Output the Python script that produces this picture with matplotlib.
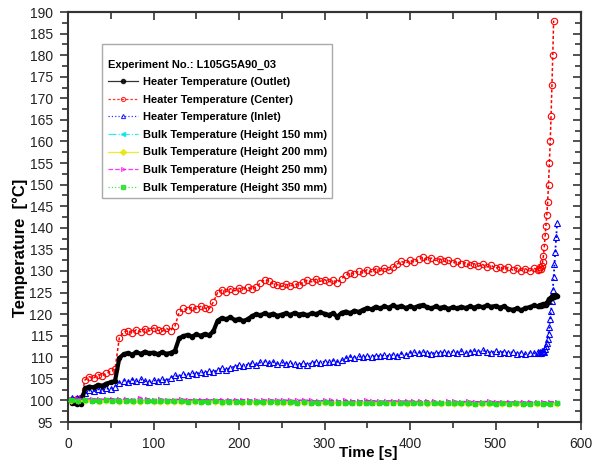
import numpy as np
import matplotlib
matplotlib.use("Agg")
import matplotlib.pyplot as plt
from matplotlib.ticker import MultipleLocator
from matplotlib.font_manager import FontProperties

# ---------------- data ----------------
t_heater = np.concatenate([np.arange(5, 551, 5), np.arange(551, 573, 1)])
t_bulk = np.arange(4, 573, 8)

heater_outlet = [
    99.3, 99.1, 99.2, 102.8, 103.2, 103.0, 103.6, 103.4, 103.9, 104.2,
    104.5, 109.8, 110.7, 111.0, 110.6, 111.2, 110.8, 111.3, 110.9, 111.1,
    110.7, 111.2, 110.8, 111.0, 111.5, 114.4, 114.9, 115.2, 114.8, 115.3,
    115.0, 115.4, 115.1, 116.0, 118.5, 119.1, 118.8, 119.3, 118.6, 118.9,
    118.4, 118.8, 119.5, 120.0, 119.7, 120.2, 119.8, 120.1, 119.6, 119.9,
    120.2, 119.8, 120.3, 119.9, 120.1, 119.7, 120.2, 120.0, 120.4, 120.1,
    119.8, 120.2, 119.4, 120.3, 120.6, 120.2, 120.8, 120.5, 121.0, 121.4,
    121.1, 121.7, 121.3, 121.8, 121.5, 122.0, 121.6, 121.9, 121.4, 121.8,
    121.5, 121.9, 122.1, 121.6, 121.3, 121.8, 121.4, 121.7, 121.2, 121.6,
    121.3, 121.7, 121.4, 121.8, 121.5, 121.9, 121.6, 122.0, 121.7, 121.9,
    121.5, 121.8, 121.2, 121.0, 121.3, 120.9, 121.4, 121.6, 122.0, 121.8,
    121.9, 122.1, 121.8, 122.2, 122.0, 122.3, 122.1, 122.4, 122.2, 122.6, 122.9,
    123.3, 123.6, 123.4, 123.8, 124.1, 123.9, 124.3, 124.0, 124.4, 124.1, 124.2,
]
heater_center = [
    100.2, 100.3, 100.5, 104.8, 105.5, 105.2, 106.0, 105.7, 106.3, 106.8,
    107.2, 114.5, 115.8, 116.2, 115.7, 116.4, 115.9, 116.6, 116.1, 116.8,
    116.3, 116.0, 116.7, 116.2, 117.2, 120.4, 121.3, 121.0, 121.6, 121.2,
    121.8, 121.4, 121.2, 122.8, 125.0, 125.6, 125.2, 125.9, 125.4, 126.0,
    125.7, 126.2, 125.8, 126.3, 127.2, 128.0, 127.6, 127.0, 126.8, 126.4,
    126.9, 126.5, 127.0, 126.7, 127.4, 127.9, 127.5, 128.1, 127.6, 128.0,
    127.5, 127.8, 127.3, 128.2, 129.0, 129.6, 129.2, 130.0, 129.6, 130.3,
    129.8, 130.5, 130.0, 130.6, 130.2, 130.8, 131.6, 132.2, 131.8, 132.5,
    132.0, 132.7, 133.2, 132.6, 133.0, 132.4, 132.8, 132.2, 132.5, 131.9,
    132.2, 131.6, 131.9, 131.3, 131.7, 131.1, 131.5, 130.9, 131.3, 130.6,
    131.0, 130.4, 130.8, 130.2, 130.7, 130.1, 130.5, 130.0, 130.6, 130.3,
    130.5, 130.9, 130.4, 131.2, 132.0, 133.5, 135.5, 138.0, 140.5, 143.0, 146.0,
    150.0, 155.0, 160.0, 166.0, 173.0, 180.0, 188.0, np.nan, np.nan, np.nan, np.nan,
]
heater_inlet = [
    100.6, 100.5, 100.7, 101.8, 102.3, 102.1, 102.6, 102.4, 102.8, 102.6,
    103.0, 104.0, 104.6, 104.3, 104.8, 104.4, 104.9, 104.5, 104.2, 104.7,
    104.4, 104.9, 104.6, 105.3, 105.8, 105.5, 106.1, 105.8, 106.4, 106.1,
    106.6, 106.3, 106.8, 106.5, 107.1, 107.4, 107.0, 107.6, 107.8, 108.1,
    107.9, 108.3, 108.6, 108.2, 108.8, 109.0, 108.6, 108.9, 108.5, 108.8,
    108.5, 108.7, 108.4, 108.2, 108.6, 108.3, 108.7, 108.9, 108.6, 109.0,
    108.8, 109.2, 108.9, 109.3, 109.8, 110.1, 109.9, 110.2, 110.0, 110.3,
    110.1, 110.4, 110.2, 110.5, 110.3, 110.6, 110.4, 110.8, 110.6, 111.0,
    111.2, 110.9, 111.3, 111.0, 110.8, 111.1, 110.9, 111.2, 111.0, 111.3,
    111.1, 111.4, 111.0, 111.3, 111.5, 111.2, 111.6, 111.3, 111.1, 111.4,
    111.0, 111.3, 110.9, 111.2, 110.8, 111.1, 110.7, 111.0, 110.9, 111.2,
    111.0, 111.3, 111.1, 111.4, 111.2, 111.5, 111.3, 111.8, 112.5, 113.3, 114.3,
    115.5, 117.0, 118.8, 120.8, 123.0, 125.5, 128.5, 131.5, 134.5, 137.8, 141.0,
]
bulk_150 = [
    100.1, 100.0, 100.1, 100.0, 99.9, 100.0, 100.0, 99.9, 100.0,
    99.9, 99.9, 100.0, 99.9, 99.8, 99.9, 99.9, 99.8, 99.9,
    99.8, 99.8, 99.9, 99.8, 99.7, 99.8, 99.8, 99.7, 99.8,
    99.7, 99.7, 99.8, 99.7, 99.6, 99.7, 99.7, 99.6, 99.7,
    99.6, 99.6, 99.7, 99.6, 99.5, 99.6, 99.6, 99.5, 99.6,
    99.5, 99.5, 99.6, 99.5, 99.4, 99.5, 99.5, 99.4, 99.5,
    99.4, 99.5, 99.4, 99.4, 99.5, 99.4, 99.3, 99.4, 99.4,
    99.3, 99.4, 99.3, 99.3, 99.4, 99.3, 99.3, 99.4, 99.3,
]
bulk_200 = [
    99.9, 99.8, 99.9, 99.8, 99.7, 99.8, 99.8, 99.7, 99.8,
    99.7, 99.7, 99.8, 99.7, 99.6, 99.7, 99.7, 99.6, 99.7,
    99.6, 99.6, 99.7, 99.6, 99.5, 99.6, 99.6, 99.5, 99.6,
    99.5, 99.5, 99.6, 99.5, 99.4, 99.5, 99.5, 99.4, 99.5,
    99.4, 99.4, 99.5, 99.4, 99.3, 99.4, 99.4, 99.3, 99.4,
    99.3, 99.3, 99.4, 99.3, 99.2, 99.3, 99.3, 99.2, 99.3,
    99.2, 99.3, 99.2, 99.2, 99.1, 99.2, 99.1, 99.2, 99.2,
    99.1, 99.2, 99.1, 99.1, 99.2, 99.1, 99.1, 99.2, 99.1,
]
bulk_250 = [
    100.3, 100.4, 100.3, 100.4, 100.3, 100.3, 100.4, 100.3, 100.3,
    100.2, 100.6, 100.3, 100.2, 100.3, 100.2, 100.2, 100.3, 100.2,
    100.1, 100.2, 100.2, 100.1, 100.2, 100.1, 100.1, 100.2, 100.1,
    100.0, 100.1, 100.1, 100.0, 100.1, 100.0, 100.0, 100.1, 100.0,
    99.9, 100.0, 100.0, 99.9, 100.0, 99.9, 99.9, 100.0, 99.9,
    99.8, 99.9, 99.9, 99.8, 99.9, 99.8, 99.8, 99.9, 99.8,
    99.7, 99.8, 99.8, 99.7, 99.8, 99.7, 99.7, 99.8, 99.7,
    99.6, 99.7, 99.7, 99.6, 99.7, 99.6, 99.6, 99.7, 99.6,
]
bulk_350 = [
    100.0, 99.9, 100.0, 99.9, 99.9, 100.0, 99.9, 99.9, 99.9,
    99.8, 99.9, 99.8, 99.8, 99.9, 99.8, 99.8, 99.8, 99.7,
    99.8, 99.7, 99.7, 99.8, 99.7, 99.7, 99.7, 99.6, 99.7,
    99.6, 99.6, 99.7, 99.6, 99.6, 99.6, 99.5, 99.6, 99.5,
    99.5, 99.6, 99.5, 99.5, 99.5, 99.4, 99.5, 99.4, 99.4,
    99.5, 99.4, 99.4, 99.4, 99.3, 99.4, 99.3, 99.4, 99.3,
    99.3, 99.4, 99.3, 99.3, 99.3, 99.2, 99.3, 99.3, 99.2,
    99.3, 99.2, 99.3, 99.2, 99.2, 99.3, 99.2, 99.2, 99.3,
]

labels = [
    "Heater Temperature (Outlet)",
    "Heater Temperature (Center)",
    "Heater Temperature (Inlet)",
    "Bulk Temperature (Height 150 mm)",
    "Bulk Temperature (Height 200 mm)",
    "Bulk Temperature (Height 250 mm)",
    "Bulk Temperature (Height 350 mm)",
]
legend_title = "Experiment No.: L105G5A90_03"
x_label = "Time [s]"
y_label = "Temperature  [°C]"

# ---------------- plot ----------------
fam = ["Liberation Sans", "DejaVu Sans"]
plt.rcParams["font.family"] = fam

fig = plt.figure(figsize=(5.94, 4.66), dpi=100)
ax = fig.add_axes([68 / 594, 1 - 422 / 466, 513 / 594, 410 / 466])

ax.plot(t_heater, heater_outlet, color="black", ls="-", lw=3.0, marker="o",
        ms=3.0, label=labels[0], zorder=3)
ax.plot(t_heater, heater_center, color="#ff0000", ls=(0, (2, 1.5)), lw=1.1,
        marker="o", ms=4.6, mfc="none", mew=0.8, label=labels[1], zorder=2)
ax.plot(t_heater, heater_inlet, color="#0000ff", ls=":", lw=1.3, marker="^",
        ms=4.2, mfc="none", mew=0.8, label=labels[2], zorder=2)
ax.plot(t_bulk, bulk_150, color="#00e5e5", ls="-.", lw=1.2, marker="<",
        ms=3, label=labels[3], zorder=4)
ax.plot(t_bulk, bulk_200, color="#e6e600", ls="-", lw=1.6, marker="D",
        ms=2.5, label=labels[4], zorder=4)
ax.plot(t_bulk, bulk_250, color="#ff00ff", ls="--", lw=1.0, marker=">",
        ms=3, mfc="none", mew=0.6, label=labels[5], zorder=4)
ax.plot(t_bulk, bulk_350, color="#22dd22", ls=":", lw=3.0, marker="s",
        ms=3.0, label=labels[6], zorder=5)

ax.set_xlim(0, 600)
ax.set_ylim(95, 190)
ax.xaxis.set_major_locator(MultipleLocator(100))
ax.xaxis.set_minor_locator(MultipleLocator(50))
ax.yaxis.set_major_locator(MultipleLocator(5))
ax.yaxis.set_minor_locator(MultipleLocator(2.5))

spine_col = "#333333"
for s in ax.spines.values():
    s.set_linewidth(1.5)
    s.set_color(spine_col)

ax.tick_params(axis="both", which="both", direction="out", top=False,
               right=False, color=spine_col, width=1.2)
ax.tick_params(axis="both", which="major", length=6, labelsize=10,
               labelcolor="#222222")
ax.tick_params(axis="both", which="minor", length=4)
ax.tick_params(axis="x", which="major", pad=5)
ax.tick_params(axis="y", which="major", pad=5)

sx = ax.secondary_xaxis("top")
sx.xaxis.set_major_locator(MultipleLocator(100))
sx.xaxis.set_minor_locator(MultipleLocator(50))
sx.tick_params(which="both", direction="in", labeltop=False, color=spine_col,
               width=1.2)
sx.tick_params(which="major", length=6)
sx.tick_params(which="minor", length=5)
sx.spines["top"].set_linewidth(1.5)
sx.spines["top"].set_color(spine_col)

sy = ax.secondary_yaxis("right")
sy.yaxis.set_major_locator(MultipleLocator(5))
sy.yaxis.set_minor_locator(MultipleLocator(2.5))
sy.tick_params(which="both", direction="in", labelright=False, color=spine_col,
               width=1.2)
sy.tick_params(which="major", length=6)
sy.tick_params(which="minor", length=4)
sy.spines["right"].set_linewidth(1.5)
sy.spines["right"].set_color(spine_col)

ax.set_xlabel(x_label, fontproperties=FontProperties(family=fam, weight="bold", size=11))
ax.xaxis.set_label_coords((368 - 68) / 513, (422 - 453) / 410)
ax.xaxis.label.set_va("center")
ax.set_ylabel(y_label, fontproperties=FontProperties(family=fam, weight="bold", size=12))
ax.yaxis.set_label_coords((20 - 68) / 513, (422 - 248) / 410)
ax.yaxis.label.set_va("center")

leg_fp = FontProperties(family=fam, weight="bold", size=8)
leg = ax.legend(loc="upper left", bbox_to_anchor=((102 - 68) / 513, (422 - 44) / 410),
                borderaxespad=0, prop=leg_fp, title="\n" + legend_title,
                title_fontproperties=leg_fp, alignment="left", fancybox=False,
                edgecolor="#aaaaaa", framealpha=1, handlelength=2.7,
                handletextpad=0.45, labelspacing=0.68, borderpad=0.5)
leg.get_title().set_linespacing(1.0)
leg.get_frame().set_linewidth(1.0)
for h in leg.get_lines():
    h.set_linewidth(0.9)
    h.set_alpha(0.8)
    h.set_markersize(3.0)

fig.savefig("out.png", dpi=100)
